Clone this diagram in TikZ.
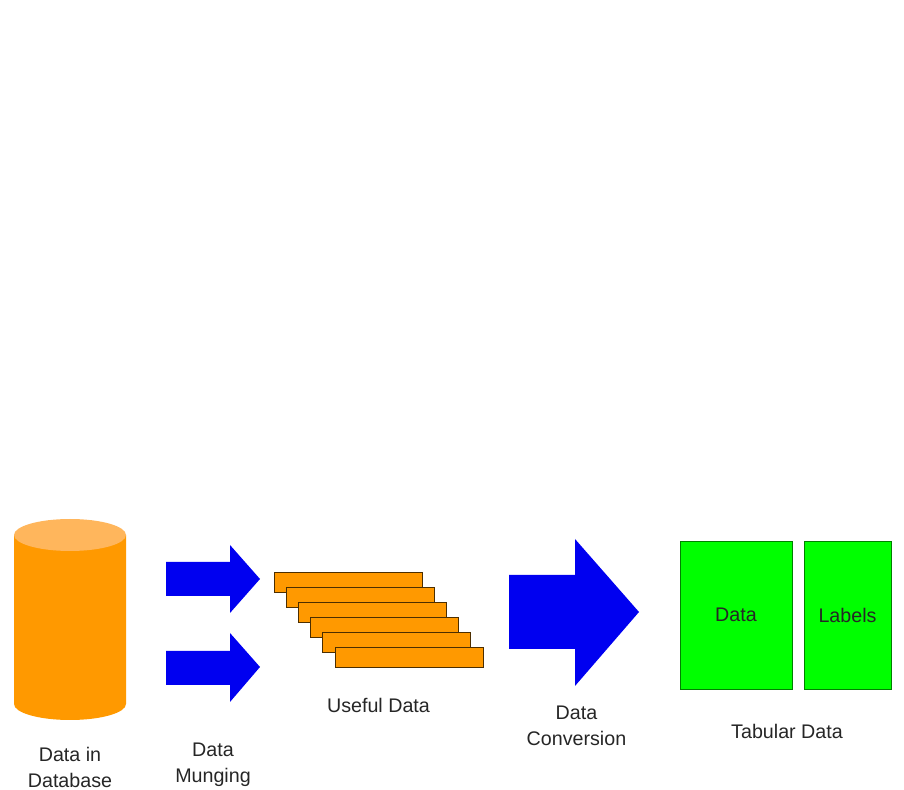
\documentclass[tikz,border=0pt]{standalone}
\usepackage{fontspec}
\setmainfont{Liberation Sans}
\definecolor{barorange}{HTML}{FF9900}
\definecolor{toporange}{HTML}{FFB65C}
\definecolor{tablegreen}{HTML}{00FF00}
\definecolor{arrowblue}{HTML}{0000F0}
\tikzset{
    bar/.style={rectangle,draw=black!70!barorange,fill=barorange,line width=0.55pt,minimum width=2.96cm,minimum height=0.4cm,inner sep=0pt},
    tablebox/.style={rectangle,draw=black!50!tablegreen,fill=tablegreen,line width=0.5pt,minimum height=2.96cm,inner sep=0pt,font=\fontsize{11.2}{14}\selectfont,text=black!85},
    caption/.style={align=center,font=\fontsize{11.2}{14.8}\selectfont,text=black!85},
    bluearrow/.style={fill=arrowblue}
}
\begin{document}
\begin{tikzpicture}[x=0.02cm,y=-0.02cm]

            \useasboundingbox (0,0) rectangle (904,790);
            %\draw [help lines] (0,0) grid (904,790);

            % database
            \fill[barorange] (14,535) -- (14,704) arc[start angle=180,end angle=0,x radius=56,y radius=16] -- (126,535) -- cycle;
            \fill[toporange] (70,535) ellipse [x radius=56,y radius=16];

            % arrows
            \fill[bluearrow] (166,562) -- (230,562) -- (230,545) -- (260,579) -- (230,613) -- (230,596) -- (166,596) -- cycle;
            \fill[bluearrow] (166,651) -- (230,651) -- (230,633) -- (260,667) -- (230,702) -- (230,685) -- (166,685) -- cycle;
            \fill[bluearrow] (509,575) -- (575,575) -- (575,539) -- (639,612) -- (575,686) -- (575,649) -- (509,649) -- cycle;

            \path   (348,582) node (row1) [bar] {}
                    (360,597) node (row2) [bar] {}
                    (372.5,612) node (row3) [bar] {}
                    (384.5,627) node (row4) [bar] {}
                    (396.5,642) node (row5) [bar] {}
                    (409,657) node (row6) [bar] {};

            \path   (736,615) node (data) [tablebox,minimum width=2.24cm] {Data}
                    (847.5,615) node (labels) [tablebox,minimum width=1.74cm] {Labels};

            \path   (70,767) node (dbtext) [caption] {Data in\\Database}
                    (213,764.5) node (mungtext) [caption] {Data\\Munging}
                    (378.5,705) node (usefultext) [caption] {Useful Data}
                    (576.5,726) node (convtext) [caption] {Data\\Conversion}
                    (787,731) node (tabtext) [caption] {Tabular Data};

\end{tikzpicture}
\end{document}
